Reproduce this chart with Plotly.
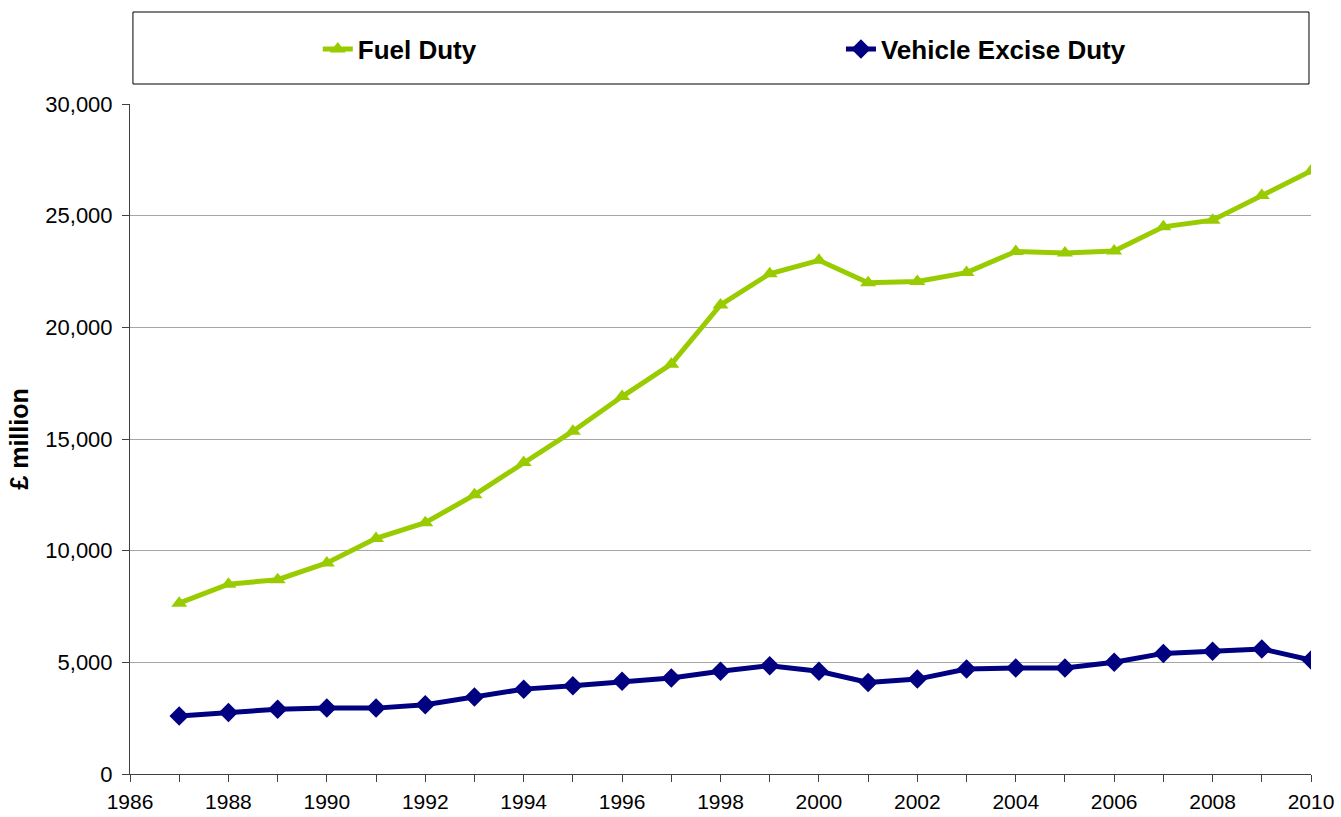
import plotly.graph_objects as go

years = list(range(1987, 2011))
fuel_duty = [7650, 8500, 8700, 9450, 10550, 11250, 12500, 13950, 15350, 16900, 18350, 21000,
             22400, 23000, 22000, 22050, 22450, 23400, 23330, 23420, 24500, 24800, 25900, 27000]
ved = [2600, 2750, 2900, 2950, 2950, 3100, 3450, 3800, 3950, 4150, 4300, 4600,
       4850, 4600, 4100, 4250, 4700, 4750, 4750, 5000, 5400, 5500, 5600, 5100]

FONT = "Liberation Sans, Arial, sans-serif"

fig = go.Figure()
fig.add_trace(go.Scatter(x=years, y=fuel_duty, name="Fuel Duty", mode="lines+markers",
                         line=dict(color="#99CC00", width=5),
                         marker=dict(symbol="triangle-up", size=14, color="#99CC00"),
                         legend="legend"))
fig.add_trace(go.Scatter(x=years, y=ved, name="Vehicle Excise Duty", mode="lines+markers",
                         line=dict(color="#000080", width=5),
                         marker=dict(symbol="diamond", size=15, color="#000080"),
                         legend="legend2"))

leg_common = dict(orientation="h", y=1.0821, yanchor="middle",
                  font=dict(size=26, family=FONT, weight="bold", color="black"),
                  bgcolor="rgba(0,0,0,0)", borderwidth=0)

fig.update_layout(
    width=1341, height=817,
    margin=dict(l=130, r=30, t=104, b=43, autoexpand=False),
    paper_bgcolor="white", plot_bgcolor="white",
    font=dict(family=FONT, size=22, color="black"),
    showlegend=True,
    legend=dict(x=0.159, xanchor="left", **leg_common),
    legend2=dict(x=0.602, xanchor="left", **leg_common),
    shapes=[dict(type="rect", xref="paper", yref="paper", x0=0.0025, x1=0.9983,
                 y0=1.02985, y1=1.1373, line=dict(color="black", width=1), layer="above")],
)
fig.update_xaxes(range=[1986, 2010], dtick=2, tick0=1986, showgrid=False, automargin=False,
                 showline=True, linecolor="#404040", linewidth=1,
                 ticks="outside", ticklen=7, tickcolor="#404040",
                 minor=dict(dtick=1, ticks="outside", ticklen=7, tickcolor="#404040"),
                 tickfont=dict(size=21, family=FONT), ticklabelstandoff=2, zeroline=False)
fig.update_yaxes(range=[0, 30000], dtick=5000, tickformat=",", showgrid=True, automargin=False,
                 gridcolor="#A6A6A6", gridwidth=1,
                 showline=True, linecolor="#404040", linewidth=1,
                 ticks="outside", ticklen=7, tickcolor="#404040",
                 tickfont=dict(size=22, family=FONT), ticklabelstandoff=5, zeroline=False,
                 title=dict(text="£ million", font=dict(size=25, family=FONT, weight="bold"),
                            standoff=9))

fig.write_html("out.html", config={"displayModeBar": False},
               post_script="document.body.style.margin='0';document.body.style.overflow='hidden';")
